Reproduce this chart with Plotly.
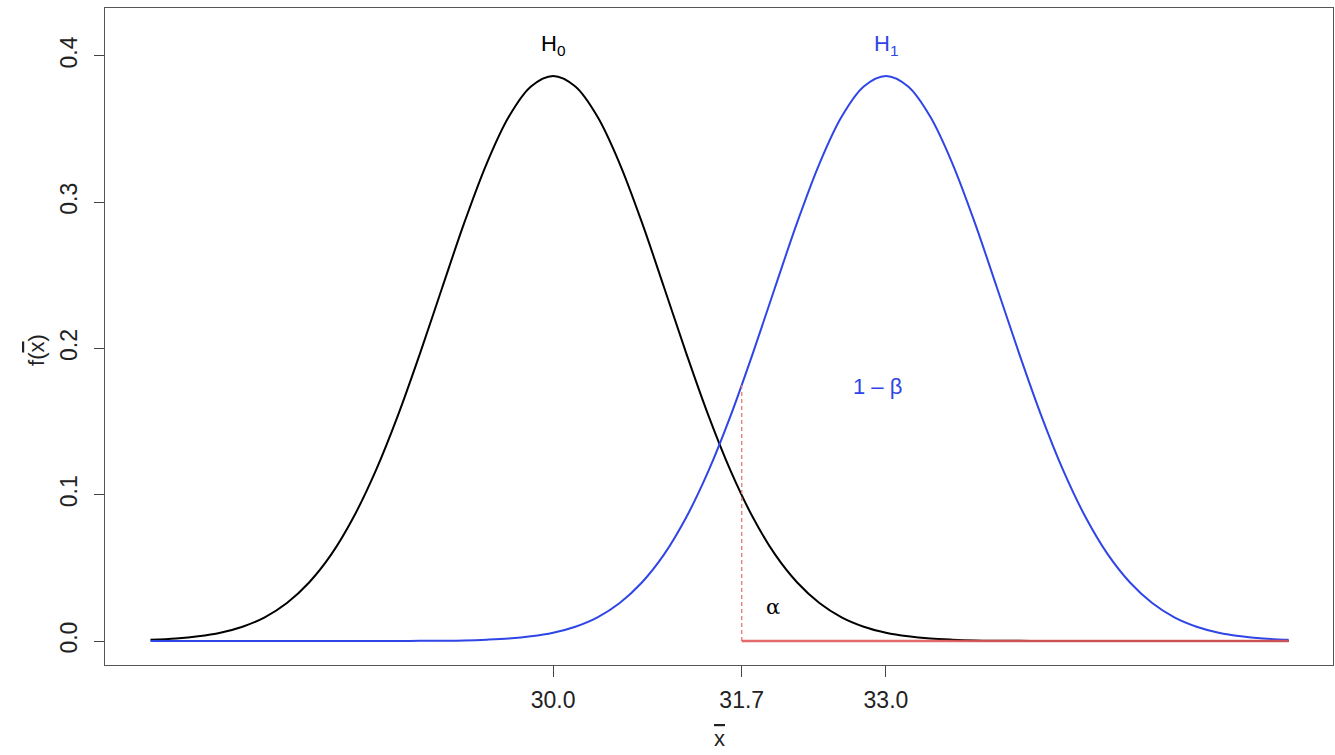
import plotly.graph_objects as go

# ---- data ----
x_grid = [26.37, 26.6, 26.8, 27.0, 27.2, 27.4, 27.6, 27.8, 28.0, 28.2, 28.4, 28.6, 28.8,
          29.0, 29.2, 29.4, 29.6, 29.8, 30.0, 30.2, 30.4, 30.6, 30.8, 31.0, 31.2, 31.4,
          31.6, 31.8, 32.0, 32.2, 32.4, 32.6, 32.8, 33.0, 33.2, 33.4, 33.6, 33.8, 34.0,
          34.2, 34.4, 34.6, 34.8, 35.0, 35.2, 35.4, 35.6, 35.8, 36.0, 36.2, 36.4, 36.63]

h0_density = [0.0008, 0.0017, 0.0032, 0.0057, 0.0098, 0.0162, 0.0260, 0.0400, 0.0592,
              0.0846, 0.1163, 0.1541, 0.1967, 0.2417, 0.2862, 0.3263, 0.3584, 0.3791,
              0.3863, 0.3791, 0.3584, 0.3263, 0.2862, 0.2417, 0.1967, 0.1541, 0.1163,
              0.0846, 0.0592, 0.0400, 0.0260, 0.0162, 0.0098, 0.0057, 0.0032, 0.0017,
              0.0009, 0.0004, 0.0002, 0.0001, 0.0, 0.0, 0.0, 0.0, 0.0, 0.0, 0.0, 0.0,
              0.0, 0.0, 0.0, 0.0]

h1_density = [0.0, 0.0, 0.0, 0.0, 0.0, 0.0, 0.0, 0.0, 0.0, 0.0, 0.0, 0.0, 0.0001,
              0.0002, 0.0004, 0.0009, 0.0017, 0.0032, 0.0057, 0.0098, 0.0162, 0.0260,
              0.0400, 0.0592, 0.0846, 0.1163, 0.1541, 0.1967, 0.2417, 0.2862, 0.3263,
              0.3584, 0.3791, 0.3863, 0.3791, 0.3584, 0.3263, 0.2862, 0.2417, 0.1967,
              0.1541, 0.1163, 0.0846, 0.0592, 0.0400, 0.0260, 0.0162, 0.0098, 0.0057,
              0.0032, 0.0017, 0.0008]

critical_x = [31.7, 31.7]
critical_y = [0.0, 0.175]
reject_x = [31.7, 36.63]
reject_y = [0.0, 0.0]

x_tick_vals = [30.0, 31.7, 33.0]
x_tick_text = ["30.0", "31.7", "33.0"]
y_tick_vals = [0.0, 0.1, 0.2, 0.3, 0.4]
y_tick_text = ["0.0", "0.1", "0.2", "0.3", "0.4"]

BLUE = "#2f45e6"
RED = "#e05a5a"
FONT = "Liberation Sans, Arial, sans-serif"
XBAR = "<span style='text-decoration:overline'>x</span>"

fig = go.Figure()
fig.add_trace(go.Scatter(x=x_grid, y=h0_density, mode="lines",
                         line=dict(color="black", width=2, shape="spline"), showlegend=False))
fig.add_trace(go.Scatter(x=x_grid, y=h1_density, mode="lines",
                         line=dict(color=BLUE, width=2, shape="spline"), showlegend=False))
fig.add_trace(go.Scatter(x=critical_x, y=critical_y, mode="lines",
                         line=dict(color="#ea7474", width=1.3, dash="4px,3px"), showlegend=False))
fig.add_trace(go.Scatter(x=reject_x, y=reject_y, mode="lines",
                         line=dict(color=RED, width=2.5), opacity=0.9, showlegend=False))

ann_font = dict(family=FONT, size=22)
fig.add_annotation(x=30.0, y=0.4075, text="H<sub>0</sub>", showarrow=False,
                   font=dict(ann_font, color="black"))
fig.add_annotation(x=33.0, y=0.4075, text="H<sub>1</sub>", showarrow=False,
                   font=dict(ann_font, color=BLUE))
fig.add_annotation(x=32.92, y=0.1737, text="1 \u2013 \u03b2", showarrow=False,
                   font=dict(ann_font, color=BLUE))
fig.add_annotation(x=31.98, y=0.0232, text="\u03b1", showarrow=False,
                   font=dict(family="DejaVu Serif, serif", size=21, color="black"))

# axis titles
fig.add_annotation(xref="paper", yref="paper", x=0.5, y=-0.112, text=XBAR,
                   showarrow=False, yanchor="middle", font=dict(family=FONT, size=22, color="#222"))
fig.add_annotation(xref="paper", yref="paper", x=-0.0554, y=0.4795, text="f(" + XBAR + ")",
                   textangle=-90, showarrow=False, xanchor="center", yanchor="middle",
                   font=dict(family=FONT, size=22, color="#222"))

fig.update_layout(
    width=1335, height=755,
    margin=dict(l=105, r=2, t=8, b=90, autoexpand=False),
    paper_bgcolor="white", plot_bgcolor="white",
    font=dict(family=FONT, size=23, color="#222"),
    xaxis=dict(range=[25.96, 37.03], tickvals=x_tick_vals, ticktext=x_tick_text,
               ticks="outside", ticklen=11, tickcolor="#444", showgrid=False,
               zeroline=False, showline=True, linecolor="#555", linewidth=1, mirror=True,
               automargin=False, ticklabelstandoff=3),
    yaxis=dict(range=[-0.0164, 0.4328], tickvals=y_tick_vals, ticktext=y_tick_text,
               ticks="outside", ticklen=10, tickcolor="#444", tickangle=-90,
               showgrid=False, zeroline=False, showline=True, linecolor="#555",
               linewidth=1, mirror=True, automargin=False, ticklabelstandoff=8),
)

fig.write_html("out.html", config={"displayModeBar": False},
               post_script="document.body.style.margin='0';")
